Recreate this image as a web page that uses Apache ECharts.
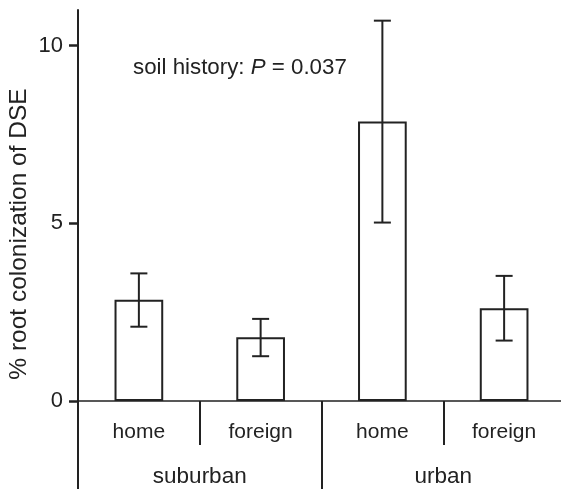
<!DOCTYPE html>
<html>
<head>
<meta charset="utf-8">
<script src="https://cdn.jsdelivr.net/npm/echarts@6/dist/echarts.min.js"></script>
<style>
  html, body { margin: 0; padding: 0; background: #fff; }
  #chart { width: 561px; height: 489px; }
</style>
</head>
<body>
<div id="chart"></div>
<script>
// ---- data ----
const categories = ['home', 'foreign', 'home', 'foreign'];
const groups = ['suburban', 'urban'];
const means = [2.85, 1.79, 7.86, 2.61];
const upper = [3.59, 2.31, 10.70, 3.52];
const lower = [2.09, 1.26, 5.02, 1.70];
const yTicks = [0, 5, 10];
const yTitle = '% root colonization of DSE';
const annotationParts = ['soil history: ', 'P', ' = 0.037'];

const FONT = 'Liberation Sans, Arial, Helvetica, sans-serif';
const INK = '#222';

const errData = categories.map((c, i) => [i, lower[i], upper[i]]);

const chart = echarts.init(document.getElementById('chart'), null, { renderer: 'canvas' });

chart.setOption({
  animation: false,
  backgroundColor: '#fff',
  title: {
    text: '{n|' + annotationParts[0] + '}{i|' + annotationParts[1] + '}{n|' + annotationParts[2] + '}',
    left: 133,
    top: 57,
    padding: 0,
    textStyle: {
      fontWeight: 'normal',
      rich: {
        n: { fontFamily: FONT, fontSize: 22.3, color: INK, fontWeight: 'normal' },
        i: { fontFamily: FONT, fontSize: 22.3, color: INK, fontStyle: 'italic', fontWeight: 'normal' }
      }
    }
  },
  graphic: [{
    type: 'text',
    x: 19,
    y: 234,
    rotation: Math.PI / 2,
    style: {
      text: yTitle,
      font: '24.5px ' + FONT,
      fill: INK,
      align: 'center',
      verticalAlign: 'middle'
    }
  }],
  grid: { left: 78, right: -4, top: 10, bottom: 88, containLabel: false, outerBoundsMode: 'none' },
  xAxis: [
    {
      type: 'category',
      data: categories,
      position: 'bottom',
      boundaryGap: true,
      axisLine: { show: true, lineStyle: { color: INK, width: 1.5 } },
      axisTick: { show: true, interval: 0, alignWithLabel: false, length: 44, lineStyle: { color: INK, width: 2 } },
      axisLabel: { interval: 0, margin: 21, fontFamily: FONT, fontSize: 21, color: INK },
      splitLine: { show: false }
    },
    {
      type: 'category',
      data: groups,
      position: 'bottom',
      boundaryGap: true,
      axisLine: { show: false },
      axisTick: { show: true, interval: 0, alignWithLabel: false, length: 92, lineStyle: { color: INK, width: 2 } },
      axisLabel: { interval: 0, margin: 64, fontFamily: FONT, fontSize: 22.5, color: INK },
      splitLine: { show: false }
    }
  ],
  yAxis: {
    type: 'value',
    min: 0,
    max: 11,
    interval: 5,
    axisLine: { show: true, lineStyle: { color: INK, width: 2 } },
    axisTick: { show: true, customValues: yTicks, length: 9, lineStyle: { color: INK, width: 2.5 } },
    axisLabel: { customValues: yTicks, margin: 15, fontFamily: FONT, fontSize: 22, color: INK },
    splitLine: { show: false }
  },
  series: [
    {
      type: 'bar',
      data: means,
      barWidth: '40%',
      itemStyle: { color: '#fff', borderColor: INK, borderWidth: 2 }
    },
    {
      type: 'custom',
      data: errData,
      z: 5,
      renderItem: function (params, api) {
        const x = api.value(0);
        const lo = api.coord([x, api.value(1)]);
        const hi = api.coord([x, api.value(2)]);
        const cap = 8.5;
        const style = { stroke: INK, lineWidth: 2 };
        return {
          type: 'group',
          children: [
            { type: 'line', shape: { x1: lo[0], y1: lo[1], x2: hi[0], y2: hi[1] }, style: style },
            { type: 'line', shape: { x1: hi[0] - cap, y1: hi[1], x2: hi[0] + cap, y2: hi[1] }, style: style },
            { type: 'line', shape: { x1: lo[0] - cap, y1: lo[1], x2: lo[0] + cap, y2: lo[1] }, style: style }
          ]
        };
      }
    }
  ]
});
</script>
</body>
</html>
